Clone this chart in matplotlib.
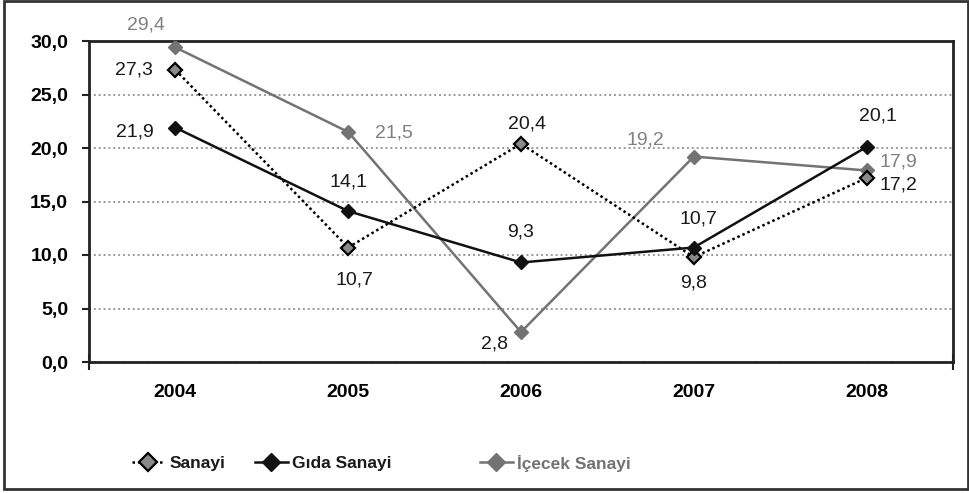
import matplotlib.pyplot as plt
from matplotlib.lines import Line2D
from matplotlib.patches import Rectangle

plt.rcParams['font.family'] = ['Liberation Sans', 'DejaVu Sans']

# %%
years = ['2004', '2005', '2006', '2007', '2008']
sanayi = [27.3, 10.7, 20.4, 9.8, 17.2]
gida = [21.9, 14.1, 9.3, 10.7, 20.1]
icecek = [29.4, 21.5, 2.8, 19.2, 17.9]

# label offsets in pixels (dx, dy)
off_sanayi = [(-41, 0), (6, -32), (6, 20), (0, -26), (32, -7)]
off_gida = [(-41, -4), (0, 29), (0, 30), (5, 29), (11, 31)]
off_icecek = [(-29, 22), (46, -1), (-26, -12), (-48, 17), (32, 8)]

GRAY = '#737373'
LGRAY = '#808080'
DARK = '#1a1a1a'
# the 2,8 label is printed dark in the original
col_icecek = [LGRAY, LGRAY, DARK, LGRAY, LGRAY]

# %%
fig = plt.figure(figsize=(9.7, 4.93), dpi=100)
ax = fig.add_axes([89/970, 131/493, 864/970, 321/493])
x = range(len(years))

ax.plot(x, sanayi, ls=(0, (1, 1.2)), lw=1.8, color='black', marker='D', ms=7.5,
        mfc='#8a8a8a', mec='black', mew=1.6, zorder=4)
ax.plot(x, gida, ls='-', lw=1.8, color='#111111', marker='D', ms=7.5,
        mfc='#111111', mec='#111111', zorder=5)
ax.plot(x, icecek, ls='-', lw=1.8, color=GRAY, marker='D', ms=7.5,
        mfc=GRAY, mec=GRAY, zorder=3)

for vals, offs, cols in [(sanayi, off_sanayi, [DARK]*5), (gida, off_gida, [DARK]*5),
                         (icecek, off_icecek, col_icecek)]:
    for i, (v, o, c) in enumerate(zip(vals, offs, cols)):
        ax.annotate(f'{v:.1f}'.replace('.', ','), (i, v), xytext=o, textcoords='offset pixels',
                    ha='center', va='center', fontsize=14, color=c)

ax.set_xlim(-0.5, 4.5)
ax.set_ylim(0, 30)
ax.set_yticks([0, 5, 10, 15, 20, 25, 30])
ax.set_yticklabels([f'{t:.1f}'.replace('.', ',') for t in [0, 5, 10, 15, 20, 25, 30]],
                   fontsize=14, fontweight='bold')
ax.tick_params(axis='y', length=5, width=1.5, pad=10, color='#222222')
ax.set_xticks(list(x))
ax.set_xticklabels(years, fontsize=14, fontweight='bold')
ax.tick_params(axis='x', which='major', length=0, pad=16)
ax.set_xticks([-0.5, 4.5], minor=True)
ax.xaxis.set_tick_params(which='minor', direction='inout', length=12, width=1.5, color='#222222')

ax.grid(axis='y', ls=(0, (1, 1.5)), color='#999999', lw=1.4)
for s in ax.spines.values():
    s.set_linewidth(2)
    s.set_color('#222222')

# legend
h1 = Line2D([], [], ls=(0, (1, 1.2)), lw=1.8, color='black', marker='D', ms=9,
            mfc='#8a8a8a', mec='black', mew=1.6)
h2 = Line2D([], [], ls='-', lw=1.8, color='#111111', marker='D', ms=9, mfc='#111111', mec='#111111')
h3 = Line2D([], [], ls='-', lw=1.8, color=GRAY, marker='D', ms=9, mfc=GRAY, mec=GRAY)
for h, lab, xpos, col in [(h1, 'Sanayi', 132, DARK), (h2, 'Gıda Sanayi', 255, DARK),
                          (h3, 'İçecek Sanayi', 480, GRAY)]:
    lg = fig.legend([h], [lab], loc='center left', bbox_to_anchor=(xpos/970, 30/493),
                    frameon=False, borderpad=0, borderaxespad=0, handlelength=1.9,
                    handletextpad=0.25, prop={'weight': 'bold', 'size': 12.5})
    for t in lg.get_texts():
        t.set_color(col)

fig.patches.append(Rectangle((4/970, 4/493), 964/970, 488/493, transform=fig.transFigure,
                             fill=False, ec='#333333', lw=2))

fig.savefig('out.png', dpi=100)
